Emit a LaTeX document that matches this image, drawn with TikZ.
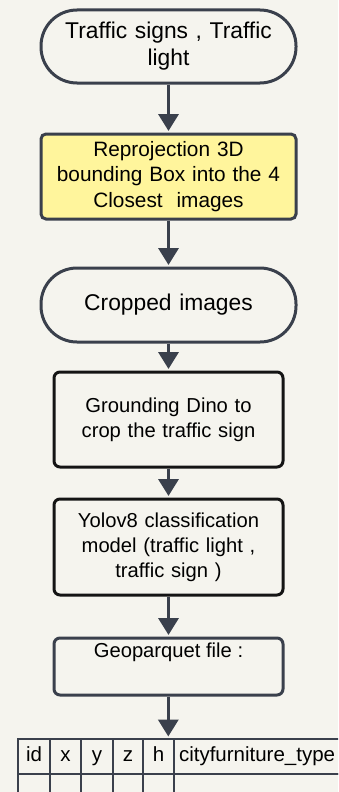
\documentclass[tikz,border=0pt]{standalone}
\usepackage{fontspec}
\setmainfont{Liberation Sans}
\usetikzlibrary{arrows.meta}
\definecolor{bgc}{HTML}{F5F4EE}
\definecolor{edge}{HTML}{3A404C}
\definecolor{yel}{HTML}{FFF59C}
\definecolor{blk}{HTML}{141414}
\tikzset{
  terminal/.style={draw=edge, line width=3pt, fill=bgc, rounded corners=36pt,
    minimum width=255pt, text width=240pt, align=center, inner sep=0pt,
    font=\fontsize{22.8pt}{27pt}\selectfont},
  yellowbox/.style={draw=edge, line width=3pt, fill=yel, rounded corners=5pt,
    minimum width=255pt, minimum height=85pt, text width=248pt, align=center, inner sep=0pt,
    font=\fontsize{20.8pt}{25.5pt}\selectfont},
  procbox/.style={draw=blk, line width=3pt, fill=bgc, rounded corners=6pt,
    minimum width=229pt, text width=220pt, align=center, inner sep=0pt,
    font=\fontsize{20.2pt}{24.8pt}\selectfont},
  filebox/.style={draw=edge, line width=3pt, fill=bgc, rounded corners=6pt,
    minimum width=229pt, minimum height=57pt, inner sep=0pt},
  cell/.style={draw=edge, line width=2pt, minimum height=35pt, inner sep=0pt,
    text height=15pt, text depth=4.5pt,
    font=\fontsize{20.5pt}{24pt}\selectfont, anchor=north west},
  flow/.style={draw=edge, line width=3.5pt, -{Triangle[width=20pt,length=17pt]}, shorten >=1.5pt},
}
\begin{document}
\begin{tikzpicture}[x=1pt,y=-1pt]
\fill[bgc] (0,0) rectangle (338,792);
\useasboundingbox (0,0) rectangle (338,792);
\clip (0,0) rectangle (338,792);

\node[terminal, minimum height=73pt] (n1) at (168.5,46.5) {Traffic signs , Traffic\\light};
\node[yellowbox] (n2) at (168.5,176.5) {Reprojection 3D\\bounding Box into the 4\\Closest\ \ images};
\node[terminal, minimum height=74pt] (n3) at (168.5,305) {Cropped images};
\node[procbox, minimum height=95pt] (n4) at (168.5,419.5) {Grounding Dino to\\crop the traffic sign};
\node[procbox, minimum height=96pt] (n5) at (168.5,547) {Yolov8 classification\\model (traffic light ,\\traffic sign )};
\node[filebox] (n6) at (168.5,666.5) {};
\node[font=\fontsize{20.2pt}{24pt}\selectfont, anchor=center] (n6t) at (168.5,652) {Geoparquet file :};

% table header row
\node[cell, minimum width=32pt] (cid) at (17,738) {id};
\node[cell, minimum width=31pt] (cx) at (49,738) {x};
\node[cell, minimum width=32pt] (cy) at (80,738) {y};
\node[cell, minimum width=30pt] (cz) at (112,738) {z};
\node[cell, minimum width=31pt] (ch) at (142,738) {h};
\node[cell, minimum width=180pt, text width=176pt, align=left] (ct) at (173,738) {\hspace*{3pt}cityfurniture\_type};
% second row
\node[cell, minimum width=32pt] (rid) at (17,773) {};
\node[cell, minimum width=31pt] (rx) at (49,773) {};
\node[cell, minimum width=32pt] (ry) at (80,773) {};
\node[cell, minimum width=30pt] (rz) at (112,773) {};
\node[cell, minimum width=31pt] (rh) at (142,773) {};
\node[cell, minimum width=180pt] (rt) at (173,773) {};

\coordinate (tabtop) at (168.3,738);
\draw[flow] (n1.south) -- (n2.north);
\draw[flow] (n2.south) -- (n3.north);
\draw[flow] (n3.south) -- (n4.north);
\draw[flow] (n4.south) -- (n5.north);
\draw[flow] (n5.south) -- (n6.north);
\draw[flow] (n6.south -| tabtop) -- (tabtop);
\end{tikzpicture}
\end{document}
